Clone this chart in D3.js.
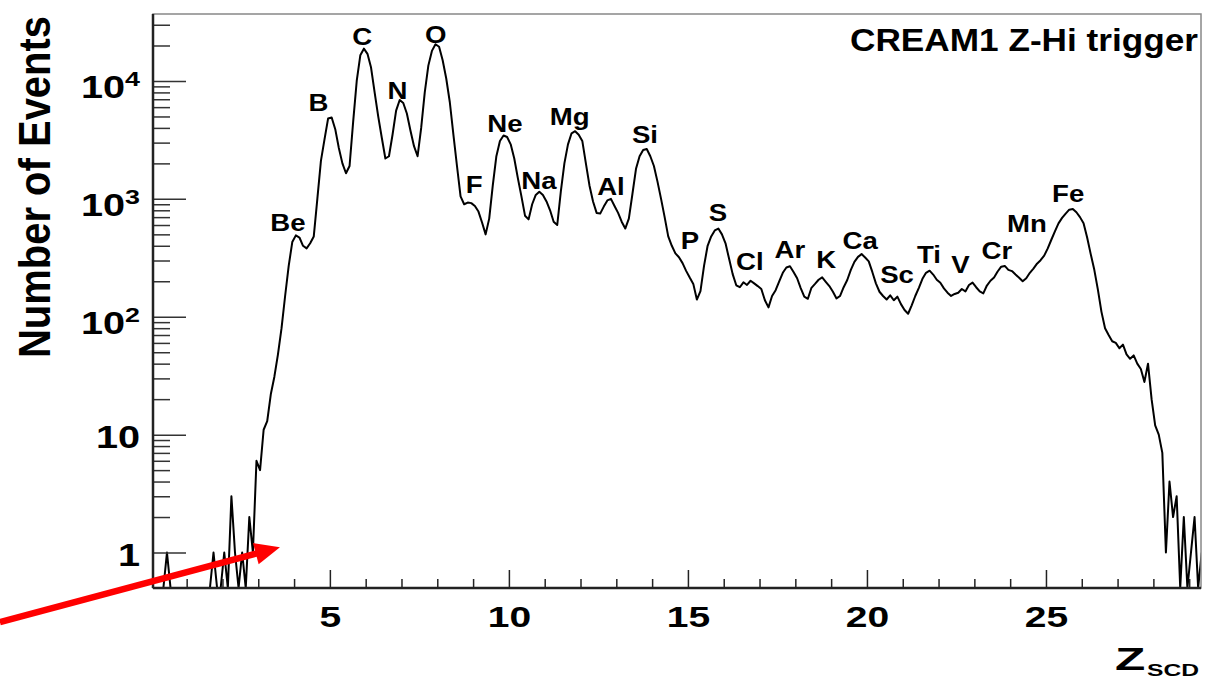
<!DOCTYPE html>
<head>
<meta charset="utf-8">
<script src="https://d3js.org/d3.v7.min.js"></script>
<style>
body { margin:0; background:#fff; }
svg text { font-family: "Liberation Sans", Arial, Helvetica, sans-serif; font-weight: bold; fill: #000; }
</style>
</head>
<body>
<div id="graph"></div>
<script>
// Z_SCD histogram, bins 0.1 wide starting at Z = 0 (log scale)
var binWidth = 0.1;
var counts0to5 = [0, 0, 0, 0, 1, 0, 0, 0, 0, 0,
  0, 0, 0, 0, 0, 0, 0, 1, 0, 0,
  1, 0, 3, 1, 0, 1, 0, 2, 1, 6,
  5, 11, 13, 22, 31, 48, 80, 150, 270, 430,
  490, 470, 400, 380, 420, 480, 1000, 2100, 3200, 4800];
var counts5to10 = [4900, 3900, 2700, 2000, 1650, 1900, 4500, 10000, 16500, 18800,
  17000, 13000, 8000, 5000, 3300, 2200, 2300, 3500, 5600, 6900,
  6500, 5300, 3800, 2800, 2300, 4000, 8000, 13500, 18000, 20500,
  19500, 15000, 10500, 6600, 3500, 1900, 1050, 900, 930, 920,
  870, 780, 630, 500, 680, 1300, 2300, 3100, 3450, 3350];
var counts10to15 = [2900, 2200, 1500, 1050, 720, 670, 900, 1080, 1150, 1080,
  950, 800, 640, 600, 1150, 2000, 2900, 3600, 3750, 3500,
  3100, 2000, 1300, 950, 760, 750, 860, 970, 1000, 870,
  760, 640, 560, 680, 1100, 1800, 2300, 2600, 2650, 2300,
  1900, 1400, 1000, 700, 480, 400, 345, 320, 285, 245];
var counts15to20 = [215, 190, 140, 165, 270, 400, 480, 540, 560, 500,
  420, 310, 230, 185, 178, 196, 186, 202, 192, 182,
  172, 138, 120, 150, 168, 200, 236, 262, 268, 240,
  212, 175, 148, 142, 176, 190, 206, 216, 198, 182,
  163, 143, 150, 178, 205, 250, 292, 322, 340, 318];
var counts20to25 = [295, 240, 192, 163, 150, 140, 152, 138, 148, 128,
  114, 106, 125, 150, 176, 210, 236, 246, 228, 206,
  194, 174, 160, 150, 156, 160, 172, 164, 186, 195,
  178, 164, 158, 184, 202, 215, 242, 266, 270, 250,
  244, 228, 214, 200, 212, 236, 256, 282, 302, 330];
var counts25to30 = [380, 450, 530, 620, 690, 750, 810, 820, 770, 700,
  620, 470, 340, 250, 170, 110, 80, 70, 62, 60,
  54, 58, 48, 44, 47, 40, 36, 28, 40, 20,
  12, 10, 7, 1, 4, 2, 3, 0, 2, 0,
  1, 2, 0, 1];

// element peak labels, anchored in data units (Z, events)
var elements = ["Be", "B", "C", "N", "O", "F", "Ne", "Na", "Mg", "Al", "Si", "P",
  "S", "Cl", "Ar", "K", "Ca", "Sc", "Ti", "V", "Cr", "Mn", "Fe"];
var labelZ = [3.83, 4.68, 5.90, 6.89, 7.96, 9.03, 9.89, 10.84, 11.70, 12.85, 13.80, 15.06,
  15.84, 16.73, 17.85, 18.86, 19.81, 20.84, 21.73, 22.61, 23.63, 24.47, 25.62];
var labelN = [538, 5610, 20360, 7090, 21180, 1130, 3720, 1223, 4225, 1077, 3005, 379,
  648, 249, 315, 261, 375, 193, 283, 237, 309, 523, 940];

var xMajorTicks = [5, 10, 15, 20, 25];
var yMajorTicks = [1, 10, 100, 1000, 10000];
var yTickExp = [0, 1, 2, 3, 4];

var counts = [].concat(counts0to5, counts5to10, counts10to15, counts15to20, counts20to25, counts25to30);

var margin = {top: 14, right: 5, bottom: 92, left: 153},
  width = 1206 - margin.left - margin.right,
  height = 680 - margin.top - margin.bottom;

var yMin = 0.5;
var x = d3.scaleLinear().domain([0.06, 29.33]).range([0, width]);
var y = d3.scaleLog().domain([yMin, 37000]).range([height, 0]);

var svg = d3.select("#graph").append("svg")
  .attr("width", 1206).attr("height", 680)
  .append("g")
  .attr("transform", "translate(" + margin.left + "," + margin.top + ")");

svg.append("clipPath").attr("id", "plotclip")
  .append("rect").attr("x", 0).attr("y", 0).attr("width", width).attr("height", height);

// histogram drawn through the bin centres
var pts = counts.map(function(c, i) { return [(i + 0.5) * binWidth, c]; });
var line = d3.line()
  .x(function(d) { return x(d[0]); })
  .y(function(d) { return y(Math.max(d[1], yMin)); });

svg.append("path")
  .datum(pts)
  .attr("clip-path", "url(#plotclip)")
  .attr("fill", "none")
  .attr("stroke", "#000")
  .attr("stroke-width", 2)
  .attr("stroke-linejoin", "round")
  .attr("d", line);

// x ticks (inside, pointing up)
var xMinor = d3.range(1, 30).filter(function(v) { return v % 5 !== 0; });
svg.append("g").attr("transform", "translate(0," + height + ")")
  .call(d3.axisBottom(x).tickValues(xMinor).tickSizeInner(-9).tickSizeOuter(0).tickFormat(""))
  .call(function(g) { g.select(".domain").remove(); g.selectAll("line").attr("stroke", "#222").attr("stroke-width", 1.5); });

var xax = svg.append("g").attr("transform", "translate(0," + height + ")")
  .call(d3.axisBottom(x).tickValues(xMajorTicks).tickSizeInner(-18).tickSizeOuter(0).tickPadding(18).tickFormat(d3.format("d")));
xax.select(".domain").remove();
xax.selectAll("line").attr("stroke", "#222").attr("stroke-width", 1.5);
xax.selectAll("text")
  .attr("font-size", 30)
  .attr("font-family", "Liberation Sans, Arial, sans-serif")
  .attr("font-weight", "bold")
  .attr("fill", "#000")
  .attr("transform", "scale(1.3,1)");

// y ticks (inside, pointing right)
var yMinor = [];
yTickExp.forEach(function(e) {
  d3.range(2, 10).forEach(function(m) {
    var v = m * Math.pow(10, e);
    if (v < 37000) yMinor.push(v);
  });
});
svg.append("g")
  .call(d3.axisLeft(y).tickValues(yMinor).tickSizeInner(-17).tickSizeOuter(0).tickFormat(""))
  .call(function(g) { g.select(".domain").remove(); g.selectAll("line").attr("stroke", "#333").attr("stroke-width", 1.5); });
svg.append("g")
  .call(d3.axisLeft(y).tickValues(yMajorTicks).tickSizeInner(-33).tickSizeOuter(0).tickFormat(""))
  .call(function(g) { g.select(".domain").remove(); g.selectAll("line").attr("stroke", "#333").attr("stroke-width", 1.5); });

// y tick labels: 1, 10, 10^2 ...
yMajorTicks.forEach(function(v, i) {
  var e = yTickExp[i];
  var t = svg.append("text")
    .attr("text-anchor", "end")
    .attr("font-size", 31)
    .attr("transform", "translate(-13," + (y(v) + (e < 2 ? 13 : 17)) + ") scale(1.28,1)");
  if (e === 0) t.text("1");
  else if (e === 1) t.text("10");
  else {
    t.append("tspan").text("10");
    t.append("tspan").attr("font-size", 21).attr("dy", -12).text(e);
  }
});

// frame
svg.append("rect").attr("x", 0).attr("y", 0).attr("width", width).attr("height", height)
  .attr("fill", "none").attr("stroke", "#888").attr("stroke-width", 1.5);
svg.append("line").attr("x1", 0).attr("x2", 0).attr("y1", 0).attr("y2", height)
  .attr("stroke", "#222").attr("stroke-width", 2.5);
svg.append("line").attr("x1", 0).attr("x2", width).attr("y1", height).attr("y2", height)
  .attr("stroke", "#222").attr("stroke-width", 2.5);

// element labels
elements.forEach(function(name, i) {
  svg.append("text")
    .attr("text-anchor", "middle")
    .attr("font-size", 24)
    .attr("transform", "translate(" + x(labelZ[i]) + "," + y(labelN[i]) + ") scale(1.15,1)")
    .text(name);
});

// title
svg.append("text")
  .attr("text-anchor", "end")
  .attr("font-size", 32)
  .attr("transform", "translate(" + (width - 3) + ",37) scale(1.1,1)")
  .text("CREAM1 Z-Hi trigger");

// axis titles
svg.append("text")
  .attr("text-anchor", "middle")
  .attr("font-size", 40)
  .attr("transform", "translate(" + (50 - margin.left) + ",173) scale(1.1,1) rotate(-90)")
  .text("Number of Events");

var zt = svg.append("g").attr("transform", "translate(" + (1115 - margin.left) + "," + (670 - margin.top) + ")");
zt.append("text").attr("font-size", 31).attr("transform", "scale(1.6,1)").text("Z");
zt.append("text").attr("font-size", 17).attr("transform", "translate(32,6) scale(1.45,1)").text("SCD");

// red arrow pointing at the Z~3 turn-on
var arrowTail = {z: -4.215, n: 0.257};
var arrowTip = {z: 3.606, n: 1.11};
var sx = x(arrowTail.z), sy = y(arrowTail.n), tx = x(arrowTip.z), ty = y(arrowTip.n);
var len = Math.hypot(tx - sx, ty - sy), ux = (tx - sx) / len, uy = (ty - sy) / len;
var bx = tx - 25 * ux, by = ty - 25 * uy;
svg.append("line")
  .attr("x1", sx).attr("y1", sy).attr("x2", bx + 2 * ux).attr("y2", by + 2 * uy)
  .attr("stroke", "#f00").attr("stroke-width", 6.5);
svg.append("polygon")
  .attr("points", [[tx, ty], [bx - 11 * uy, by + 11 * ux], [bx + 11 * uy, by - 11 * ux]].join(" "))
  .attr("fill", "#f00");
</script>
</body>
